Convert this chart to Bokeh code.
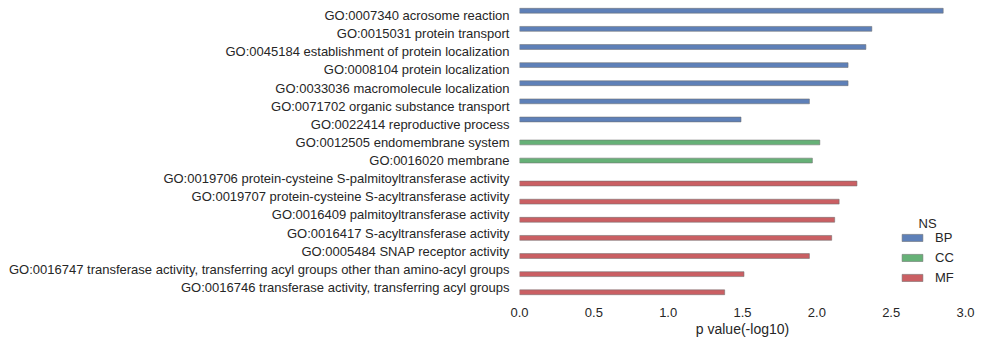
from bokeh.plotting import figure
from bokeh.models import FactorRange, Range1d, ColumnDataSource, Legend, LegendItem, Label, FixedTicker, NumeralTickFormatter
from bokeh.transform import dodge
from bokeh.embed import file_html
from bokeh.resources import INLINE

terms = [
    "GO:0007340 acrosome reaction",
    "GO:0015031 protein transport",
    "GO:0045184 establishment of protein localization",
    "GO:0008104 protein localization",
    "GO:0033036 macromolecule localization",
    "GO:0071702 organic substance transport",
    "GO:0022414 reproductive process",
    "GO:0012505 endomembrane system",
    "GO:0016020 membrane",
    "GO:0019706 protein-cysteine S-palmitoyltransferase activity",
    "GO:0019707 protein-cysteine S-acyltransferase activity",
    "GO:0016409 palmitoyltransferase activity",
    "GO:0016417 S-acyltransferase activity",
    "GO:0005484 SNAP receptor activity",
    "GO:0016747 transferase activity, transferring acyl groups other than amino-acyl groups",
    "GO:0016746 transferase activity, transferring acyl groups",
]
ns = ["BP", "BP", "BP", "BP", "BP", "BP", "BP",
      "CC", "CC",
      "MF", "MF", "MF", "MF", "MF", "MF", "MF"]
pvals = [2.85, 2.37, 2.33, 2.21, 2.21, 1.95, 1.49,
         2.02, 1.97,
         2.27, 2.15, 2.12, 2.10, 1.95, 1.51, 1.38]
hue_order = ["BP", "CC", "MF"]
colors = {"BP": "#4C72B0", "CC": "#55A868", "MF": "#C44E52"}
x_ticks = [0.0, 0.5, 1.0, 1.5, 2.0, 2.5, 3.0]

TXT = "#262626"
FONT = "Liberation Sans"

p = figure(width=981, height=345, output_backend="svg", toolbar_location=None,
           y_range=FactorRange(factors=list(reversed(terms))),
           x_range=Range1d(0, 3.0),
           min_border_left=519, min_border_right=16, min_border_top=6, min_border_bottom=49)
p.outline_line_color = None
p.background_fill_color = "white"
p.border_fill_color = "white"
p.xgrid.visible = False
p.ygrid.visible = False

bar_h = 0.8 / len(hue_order)
items = []
for k, h in enumerate(hue_order):
    idx = [i for i, n in enumerate(ns) if n == h]
    src = ColumnDataSource(dict(term=[terms[i] for i in idx], val=[pvals[i] for i in idx]))
    off = (1 - k) * bar_h
    r = p.hbar(y=dodge("term", off, range=p.y_range), right="val", left=0, height=bar_h,
               source=src, fill_color=colors[h], fill_alpha=0.9,
               line_color="#707070", line_alpha=0.55, line_width=1)
    items.append(LegendItem(label=h, renderers=[r]))

legend = Legend(items=items, location=(380, 11), padding=0, margin=0,
                border_line_color=None, background_fill_alpha=0,
                glyph_width=26, glyph_height=9, label_height=14, spacing=5,
                label_text_font=FONT, label_text_font_size="13px", label_text_color=TXT,
                label_standoff=10)
p.add_layout(legend)
p.add_layout(Label(x=2.745, y=4.03, text="NS", text_align="center", text_baseline="middle",
                   text_font=FONT, text_font_size="13px", text_color=TXT))

for ax in (p.xaxis[0], p.yaxis[0]):
    ax.axis_line_color = None
    ax.major_tick_line_color = None
    ax.minor_tick_line_color = None
    ax.major_label_text_font = FONT
    ax.major_label_text_font_size = "13px"
    ax.major_label_text_color = TXT

p.yaxis[0].major_label_standoff = 4
p.xaxis[0].ticker = FixedTicker(ticks=x_ticks)
p.xaxis[0].formatter = NumeralTickFormatter(format="0.0")
p.xaxis[0].major_label_standoff = 5
p.xaxis[0].axis_label = "p value(-log10)"
p.xaxis[0].axis_label_text_font = FONT
p.xaxis[0].axis_label_text_font_size = "14px"
p.xaxis[0].axis_label_text_font_style = "normal"
p.xaxis[0].axis_label_text_color = TXT
p.xaxis[0].axis_label_standoff = 1

open("out.html", "w").write(file_html(p, INLINE))
